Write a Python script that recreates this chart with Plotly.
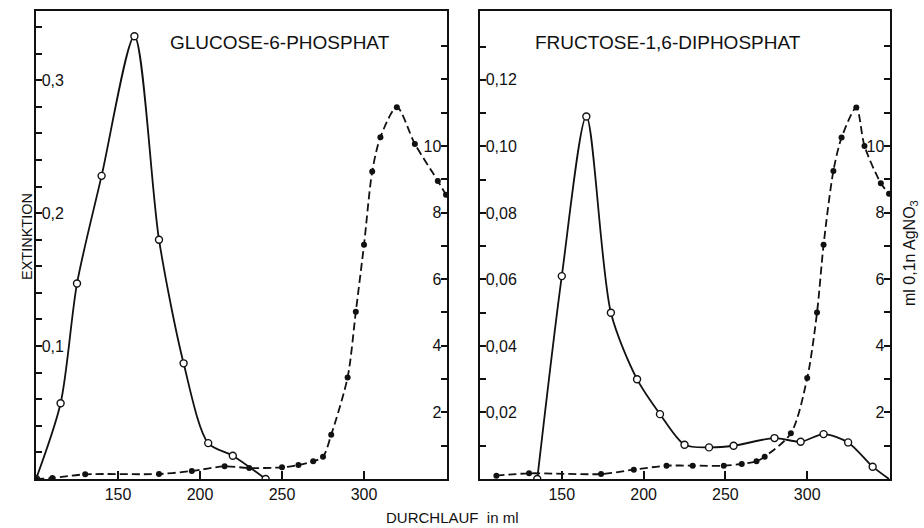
import plotly.graph_objects as go

# ---------------- data ----------------
# Left panel: Glucose-6-phosphat
g6p_ext_x = [100, 115, 125, 140, 160, 175, 190, 205, 220, 240]
g6p_ext_y = [0.0, 0.057, 0.147, 0.228, 0.333, 0.180, 0.087, 0.027, 0.0175, 0.0]

g6p_ag_x = [100, 110, 130, 175, 195, 215, 230, 250, 260, 269, 275, 280, 290, 295,
            300, 305, 310, 320, 331, 345, 350]
g6p_ag_y = [0.0, 0.03, 0.14, 0.15, 0.24, 0.38, 0.33, 0.35, 0.42, 0.53, 0.67, 1.33, 3.05, 5.02,
            7.03, 9.23, 10.26, 11.16, 10.06, 8.95, 8.53]

# Right panel: Fructose-1,6-diphosphat
f16_ext_x = [135, 150, 165, 180, 196, 210, 225, 240, 255, 280, 296, 310, 325, 340, 350]
f16_ext_y = [0.0, 0.061, 0.109, 0.050, 0.030, 0.0195, 0.0103, 0.0095, 0.0100, 0.0123,
             0.0112, 0.0135, 0.011, 0.0037, 0.0]
f16_ext_n_marked = 14  # last point is only the end of the curve, no symbol

f16_ag_x = [110, 130, 174, 194, 214, 230, 249, 260, 269, 274, 290, 300, 306, 310, 316,
            321, 330, 335, 345, 350]
f16_ag_y = [0.10, 0.17, 0.15, 0.28, 0.40, 0.40, 0.40, 0.45, 0.53, 0.67, 1.37, 3.03, 5.0, 7.03,
            9.25, 10.25, 11.15, 10.0, 8.88, 8.56]

# axis tick definitions
x_ticks = [150, 200, 250, 300]
ext1_ticks = [round(0.02 * i, 2) for i in range(1, 18)]
ext1_labels = {0.1: "0,1", 0.2: "0,2", 0.3: "0,3"}
ext2_ticks = [round(0.01 * i, 2) for i in range(1, 14)]
ext2_labels = {0.02: "0,02", 0.04: "0,04", 0.06: "0,06", 0.08: "0,08", 0.1: "0,10", 0.12: "0,12"}
ag_ticks = list(range(1, 14))
ag_labels = {2: "2", 4: "4", 6: "6", 8: "8", 10: "10"}

titles = ["GLUCOSE-6-PHOSPHAT", "FRUCTOSE-1,6-DIPHOSPHAT"]

FONT = "Liberation Sans, Arial, sans-serif"
BLACK = "#111111"

fig = go.Figure()

open_marker = dict(symbol="circle", size=7, color="white", line=dict(color=BLACK, width=1.4))
fill_marker = dict(symbol="circle", size=6, color=BLACK)
dash = "8px,4px"
LW = 1.8
spl = dict(shape="spline", smoothing=0.8)

# left panel
fig.add_trace(go.Scatter(x=g6p_ag_x, y=g6p_ag_y, xaxis="x", yaxis="y2", mode="lines+markers",
                         line=dict(color=BLACK, width=LW, dash=dash, **spl),
                         marker=fill_marker, showlegend=False))
fig.add_trace(go.Scatter(x=g6p_ext_x, y=g6p_ext_y, xaxis="x", yaxis="y", mode="lines+markers",
                         line=dict(color=BLACK, width=LW, **spl),
                         marker=open_marker, showlegend=False))
# right panel
fig.add_trace(go.Scatter(x=f16_ag_x, y=f16_ag_y, xaxis="x2", yaxis="y4", mode="lines+markers",
                         line=dict(color=BLACK, width=LW, dash=dash, **spl),
                         marker=fill_marker, showlegend=False))
fig.add_trace(go.Scatter(x=f16_ext_x, y=f16_ext_y, xaxis="x2", yaxis="y3", mode="lines",
                         line=dict(color=BLACK, width=LW, **spl), showlegend=False))
fig.add_trace(go.Scatter(x=f16_ext_x[:f16_ext_n_marked], y=f16_ext_y[:f16_ext_n_marked],
                         xaxis="x2", yaxis="y3", mode="markers",
                         marker=open_marker, showlegend=False))

x_dom1 = [36 / 924, 447 / 924]
x_dom2 = [480 / 924, 890 / 924]
y_dom = [(528 - 479) / 528, (528 - 11) / 528]
XR = [100, 350.6]

tickfont = dict(family=FONT, size=16, color=BLACK)


def xaxis(domain, anchor):
    return dict(domain=domain, anchor=anchor, range=XR, showline=True, linecolor=BLACK,
                linewidth=1.8, mirror=True, ticks="inside", ticklen=8, tickwidth=1.5,
                tickcolor=BLACK, tickvals=x_ticks, ticktext=[str(v) for v in x_ticks],
                tickfont=dict(family=FONT, size=16, color=BLACK), showgrid=False,
                zeroline=False, fixedrange=True)


def yaxis(anchor, rng, ticks, labels, side="left", overlaying=None):
    d = dict(domain=y_dom, anchor=anchor, range=rng, showline=True, linecolor=BLACK,
             linewidth=1.8, ticks="inside", ticklen=6, tickwidth=1.5, tickcolor=BLACK,
             tickvals=ticks, ticktext=[labels.get(t, "") for t in ticks],
             ticklabelposition="inside", tickfont=tickfont, showgrid=False, zeroline=False,
             side=side, fixedrange=True)
    if overlaying:
        d["overlaying"] = overlaying
    return d


def ann(text, x, y, size, angle=0):
    return dict(text=text, x=x / 924, y=(528 - y) / 528, xref="paper", yref="paper",
                xanchor="center", yanchor="middle", textangle=angle, showarrow=False,
                font=dict(family=FONT, size=size, color=BLACK))


fig.update_layout(
    width=924, height=528,
    margin=dict(l=0, r=0, t=0, b=0),
    paper_bgcolor="white", plot_bgcolor="white",
    font=dict(family=FONT, color=BLACK),
    xaxis=xaxis(x_dom1, "y"),
    xaxis2=xaxis(x_dom2, "y3"),
    yaxis=yaxis("x", [0, 0.352], ext1_ticks, ext1_labels),
    yaxis2=yaxis("x", [0, 14.05], ag_ticks, ag_labels, side="right", overlaying="y"),
    yaxis3=yaxis("x2", [0, 0.1407], ext2_ticks, ext2_labels),
    yaxis4=yaxis("x2", [0, 14.05], ag_ticks, ag_labels, side="right", overlaying="y3"),
    annotations=[
        ann(titles[0], 280, 43, 19),
        ann(titles[1], 668, 43, 19),
        ann("EXTINKTION", 27, 237, 14.5),
        ann("ml 0,1n AgNO<sub>3</sub>", 911, 253, 16, -90),
        ann("DURCHLAUF  in ml", 452, 517, 15),
    ],
)
fig.layout.annotations[2].textangle = -90

fig.write_html("out.html")
